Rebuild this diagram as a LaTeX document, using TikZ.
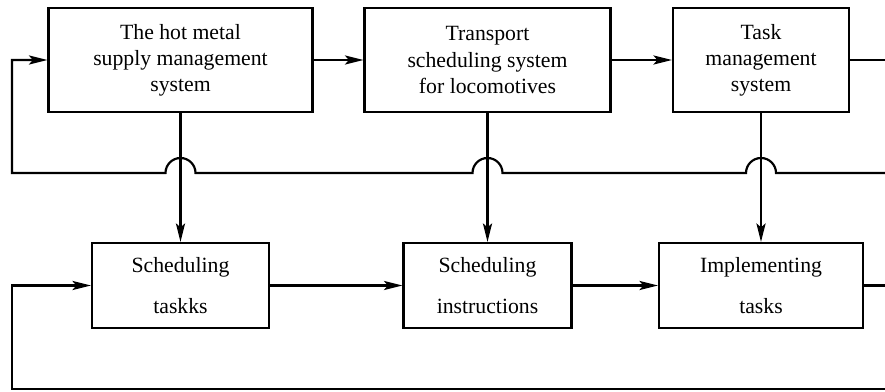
\documentclass[tikz,border=0pt]{standalone}
\usepackage{fontspec}
\setmainfont{Liberation Serif}
\usetikzlibrary{arrows.meta}

\begin{document}
\begin{tikzpicture}[x=0.46pt,y=0.46pt,
		sysbox/.style={draw,line width=1pt,align=center,inner sep=0pt,minimum height=104*0.46pt},
		taskbox/.style={draw,line width=1pt,align=center,inner sep=0pt,minimum height=85*0.46pt},
		flow/.style={line width=1pt,-{Stealth[length=8.5pt,width=4.2pt,inset=1.8pt]}},
		link/.style={line width=1pt}]
			\def\u{0.46pt}
			\def\hr{15*0.46pt}
			
			\useasboundingbox (0,0) rectangle (885,-391);
			
			\node[sysbox,minimum width=264*\u] (hotmetal) at (180.5,-60) {The hot metal\\supply management\\system};
			\node[sysbox,minimum width=246*\u] (transport) at (487.5,-60) {Transport\\scheduling system\\for locomotives};
			\node[sysbox,minimum width=176*\u] (taskmgmt) at (761,-60) {Task\\management\\system};
			
			\node[taskbox,minimum width=177*\u] (schedtask) at (180.5,-285.5) {Scheduling\\[6.5pt]taskks};
			\node[taskbox,minimum width=168*\u] (schedinstr) at (487.5,-285.5) {Scheduling\\[6.5pt]instructions};
			\node[taskbox,minimum width=204*\u] (impltask) at (761,-285.5) {Implementing\\[6.5pt]tasks};
			
			\coordinate (topend) at (885,-173);
			\coordinate (topleft) at (12,-173);
			\coordinate (botend) at (885,-389);
			\coordinate (botleft) at (12,-389);
			\coordinate (hopA) at (hotmetal.south |- topend);
			\coordinate (hopB) at (transport.south |- topend);
			\coordinate (hopC) at (taskmgmt.south |- topend);
			
			\draw[flow] (hotmetal) -- (transport);
			\draw[flow] (transport) -- (taskmgmt);
			\draw[link] (taskmgmt.east) -- (taskmgmt.east -| topend);
			
			\draw[flow] (schedtask) -- (schedinstr);
			\draw[flow] (schedinstr) -- (impltask);
			\draw[link] (impltask.east) -- (impltask.east -| botend);
			
			\draw[flow] (hotmetal) -- (schedtask);
			\draw[flow] (transport) -- (schedinstr);
			\draw[flow] (taskmgmt) -- (impltask);
			
			\draw[flow] (topend) -- ([xshift=\hr]hopC) arc[start angle=0,end angle=180,radius=\hr]
			-- ([xshift=\hr]hopB) arc[start angle=0,end angle=180,radius=\hr]
			-- ([xshift=\hr]hopA) arc[start angle=0,end angle=180,radius=\hr]
			-- (topleft) |- (hotmetal.west);
			
			\draw[flow] (botend) -- (botleft) |- (schedtask.west);
		\end{tikzpicture}
\end{document}
